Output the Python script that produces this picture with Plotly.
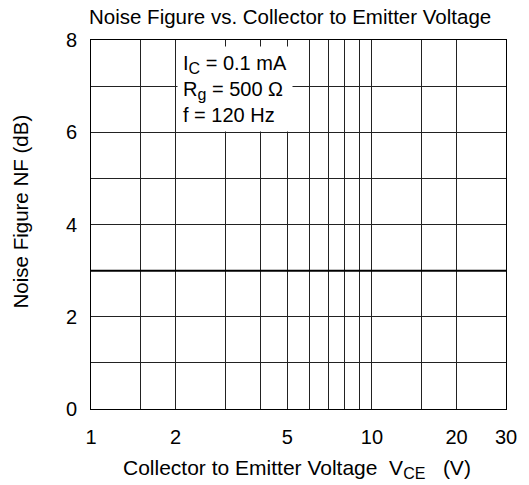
import plotly.graph_objects as go
import math

# Data
vce = [1, 2, 5, 10, 20, 30]
nf = [3, 3, 3, 3, 3, 3]

x_tick_vals = [1, 2, 5, 10, 20, 30]
x_tick_text = ["1", "2", "5", "10", "20", "30"]
x_minor_grid = [1.5, 3, 4, 6, 7, 8, 9, 15]
y_tick_vals = [0, 2, 4, 6, 8]
y_minor_grid = [1, 3, 5, 7]

title_text = "Noise Figure vs. Collector to Emitter Voltage"
x_title = ("Collector to Emitter Voltage\u00a0 V"
           "<sub><span style='font-size:16px'>CE</span></sub>\u00a0\u00a0\u00a0(V)")
y_title = "Noise Figure NF (dB)"
cond_text = ("I<sub><span style='font-size:16px'>C</span></sub> = 0.1 mA<br>"
             "R<sub><span style='font-size:16px'>g</span></sub> = 500 \u03a9<br>"
             "f = 120 Hz")

FONT = "Liberation Sans, Arial, sans-serif"
FS_TITLE = 20.5
FS_XTITLE = 21
FS_TICK = 20
FS_COND = 20

fig = go.Figure()
fig.add_trace(go.Scatter(x=vce, y=nf, mode="lines",
                         line=dict(color="black", width=2), showlegend=False,
                         hoverinfo="skip"))

# page body has an 8px margin, so the figure is sized/offset accordingly
fig.update_layout(
    width=521, height=477,
    margin=dict(l=83, r=17, t=32, b=76),
    paper_bgcolor="white", plot_bgcolor="white",
    font=dict(family=FONT, size=FS_TICK, color="black"),
    showlegend=False,
)
fig.update_xaxes(
    type="log", range=[0, math.log10(30)],
    tickmode="array", tickvals=x_tick_vals, ticktext=x_tick_text,
    showgrid=True, gridcolor="#222", gridwidth=1,
    minor=dict(tickmode="array", tickvals=x_minor_grid, showgrid=True,
               gridcolor="#222", gridwidth=1, ticks=""),
    ticks="", ticklabelstandoff=10,
    showline=True, linecolor="black", linewidth=1, mirror=True,
    zeroline=False,
)
fig.update_yaxes(
    range=[0, 8],
    tickmode="array", tickvals=y_tick_vals,
    showgrid=True, gridcolor="#222", gridwidth=1,
    minor=dict(tickmode="array", tickvals=y_minor_grid, showgrid=True,
               gridcolor="#222", gridwidth=1, ticks=""),
    ticks="", ticklabelstandoff=9,
    showline=True, linecolor="black", linewidth=1, mirror=True,
    zeroline=False,
)

fig.add_annotation(text=title_text, xref="paper", yref="paper",
                   x=0.48, y=1.064, xanchor="center", yanchor="middle",
                   showarrow=False, font=dict(size=FS_TITLE))
fig.add_annotation(text=x_title, xref="paper", yref="paper",
                   x=0.497, y=-0.163, xanchor="center", yanchor="middle",
                   showarrow=False, font=dict(size=FS_XTITLE))
fig.add_annotation(text=y_title, xref="paper", yref="paper",
                   x=-0.169, y=0.535, xanchor="center", yanchor="middle",
                   textangle=-90, showarrow=False, font=dict(size=FS_TITLE))
fig.add_annotation(text=cond_text, xref="paper", yref="paper",
                   x=0.208, y=0.984, xanchor="left", yanchor="top",
                   align="left", showarrow=False, bgcolor="white",
                   borderpad=5, font=dict(size=FS_COND))

fig.write_html("out.html")
